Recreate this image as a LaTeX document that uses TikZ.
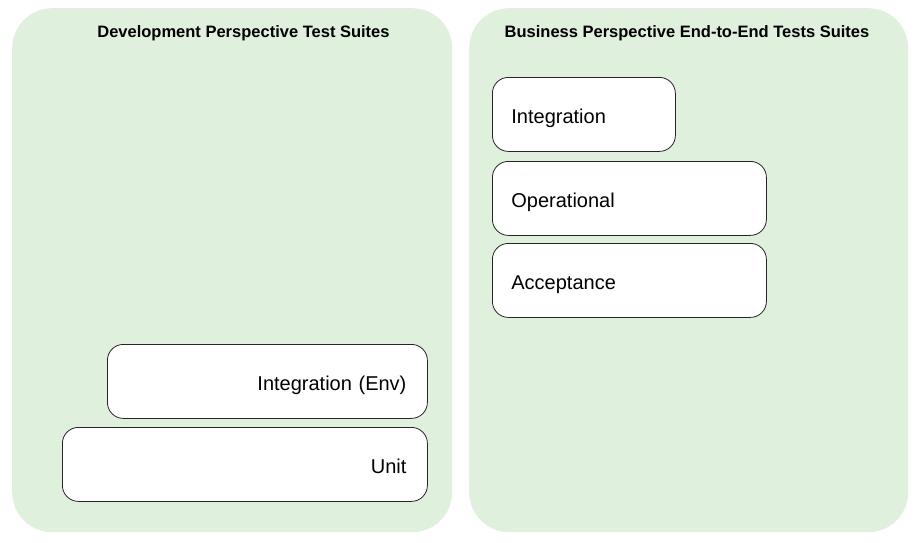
\documentclass[tikz,border=0pt]{standalone}
\usepackage{fontspec}
\setmainfont{Liberation Sans}
\usetikzlibrary{positioning}
\definecolor{panelgreen}{RGB}{223,240,220}

\begin{document}
\begin{tikzpicture}[x=1pt,y=-1pt,
    panel/.style={fill=panelgreen, rounded corners=40pt, anchor=north west, inner sep=0pt},
    suite/.style={draw=black!85, fill=white, rounded corners=16pt, line width=0.8pt,
      anchor=north west, minimum height=74pt, inner ysep=0pt, text height=18.6pt, text depth=0pt,
      font=\fontsize{20}{24}\selectfont},
    heading/.style={anchor=base, font=\bfseries\fontsize{16.5}{20}\selectfont}]
    \useasboundingbox (0,0) rectangle (918,543);

    % Panels
    \node[panel, minimum width=440pt, minimum height=524pt] (dev) at (12,8) {};
    \node[panel, minimum width=439pt, minimum height=524pt] (biz) at (469,8) {};

    % Headings
    \node[heading] (devtitle) at (243.5,37.7) {Development Perspective Test Suites};
    \node[heading] (biztitle) at (687,37.7) {Business Perspective End-to-End Tests Suites};

    % Business perspective suites
    \node[suite, text width=145pt, inner xsep=19pt, align=left] (bizint) at (492,77) {Integration};
    \node[suite, text width=236pt, inner xsep=19pt, align=left] (bizop) at (492,161) {Operational};
    \node[suite, text width=236pt, inner xsep=19pt, align=left] (bizacc) at (492,243) {Acceptance};

    % Development perspective suites
    \node[suite, text width=278pt, inner xsep=21pt, align=right] (devenv) at (107,344) {Integration (Env)};
    \node[suite, text width=323pt, inner xsep=21pt, align=right] (devunit) at (62,427) {Unit};
\end{tikzpicture}
\end{document}
